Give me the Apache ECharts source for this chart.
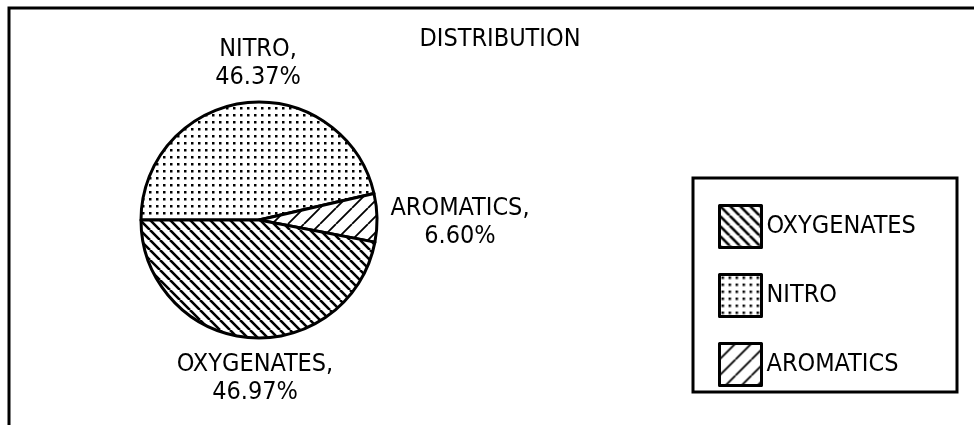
<!DOCTYPE html>
<html>
<head>
<meta charset="utf-8">
<script src="https://cdn.jsdelivr.net/npm/echarts@6/dist/echarts.min.js"></script>
<style>
  html, body { margin: 0; padding: 0; background: #fff; }
  #chart { width: 974px; height: 425px; }
</style>
</head>
<body>
<div id="chart"></div>
<script>
// Composition shares (percent)
const categories = ['NITRO', 'AROMATICS', 'OXYGENATES'];
const shares = [46.37, 6.60, 46.97];
const legendOrder = ['OXYGENATES', 'NITRO', 'AROMATICS'];
const chartTitle = 'DISTRIBUTION';

const FONT = "'Liberation Sans Narrow', 'DejaVu Sans Condensed', 'Arial Narrow', sans-serif";
const PIE_CENTER = [259, 220];
const PIE_RADIUS = 118;
// where each slice label sits, relative to the pie centre
const labelOffsets = { NITRO: [-1, -157], AROMATICS: [201, 2], OXYGENATES: [-4, 158] };

// Black-and-white fill textures
function hatch(step, dir, width) {
  const c = document.createElement('canvas');
  c.width = step; c.height = step;
  const g = c.getContext('2d');
  g.fillStyle = '#fff';
  g.fillRect(0, 0, step, step);
  g.strokeStyle = '#000';
  g.lineWidth = width;
  g.beginPath();
  for (let k = -step; k <= step; k += step) {
    if (dir === 'down') { g.moveTo(k, 0); g.lineTo(k + step, step); }
    else { g.moveTo(k, step); g.lineTo(k + step, 0); }
  }
  g.stroke();
  return c;
}
function dots(stepX, stepY, size) {
  const c = document.createElement('canvas');
  c.width = stepX; c.height = stepY;
  const g = c.getContext('2d');
  g.fillStyle = '#fff';
  g.fillRect(0, 0, stepX, stepY);
  g.fillStyle = '#000';
  g.fillRect(2, 2, size, size);
  return c;
}
const fills = {
  OXYGENATES: { image: hatch(10, 'down', 2.6), repeat: 'repeat' },
  NITRO: { image: dots(7, 7, 2.5), repeat: 'repeat' },
  AROMATICS: { image: hatch(16, 'up', 1.8), repeat: 'repeat' }
};

const textBase = { fontFamily: FONT, fontSize: 25, color: '#000', fontWeight: 'normal' };

const chart = echarts.init(document.getElementById('chart'), null, { renderer: 'canvas' });
chart.setOption({
  animation: false,
  backgroundColor: '#fff',
  title: {
    text: chartTitle,
    left: 495,
    top: 22,
    textAlign: 'center',
    textStyle: textBase
  },
  legend: {
    orient: 'vertical',
    left: 718,
    top: 204,
    padding: 0,
    itemWidth: 42,
    itemHeight: 42,
    itemGap: 24,
    icon: 'rect',
    selectedMode: false,
    data: legendOrder,
    textStyle: textBase,
    itemStyle: { borderColor: '#000', borderWidth: 3 }
  },
  graphic: [
    {
      type: 'polyline',
      shape: { points: [[9, 425], [9, 8], [974, 8]] },
      style: { stroke: '#000', lineWidth: 3, fill: 'transparent' }
    },
    {
      type: 'rect',
      shape: { x: 693, y: 178, width: 264, height: 214 },
      style: { stroke: '#000', lineWidth: 3, fill: 'transparent' }
    }
  ],
  series: [{
    type: 'pie',
    center: PIE_CENTER,
    radius: PIE_RADIUS,
    startAngle: 180,
    clockwise: true,
    silent: true,
    avoidLabelOverlap: false,
    itemStyle: { borderColor: '#000', borderWidth: 3 },
    label: {
      show: true,
      position: 'outside',
      align: 'center',
      lineHeight: 28,
      ...textBase,
      formatter: p => p.name + ',\n' + p.value.toFixed(2) + '%'
    },
    labelLine: { show: false },
    labelLayout: params => {
      const o = labelOffsets[categories[params.dataIndex]];
      return { x: PIE_CENTER[0] + o[0], y: PIE_CENTER[1] + o[1], align: 'center', verticalAlign: 'middle' };
    },
    emphasis: { disabled: true },
    data: categories.map((name, i) => ({ name, value: shares[i], itemStyle: { color: fills[name] } }))
  }]
});
</script>
</body>
</html>
